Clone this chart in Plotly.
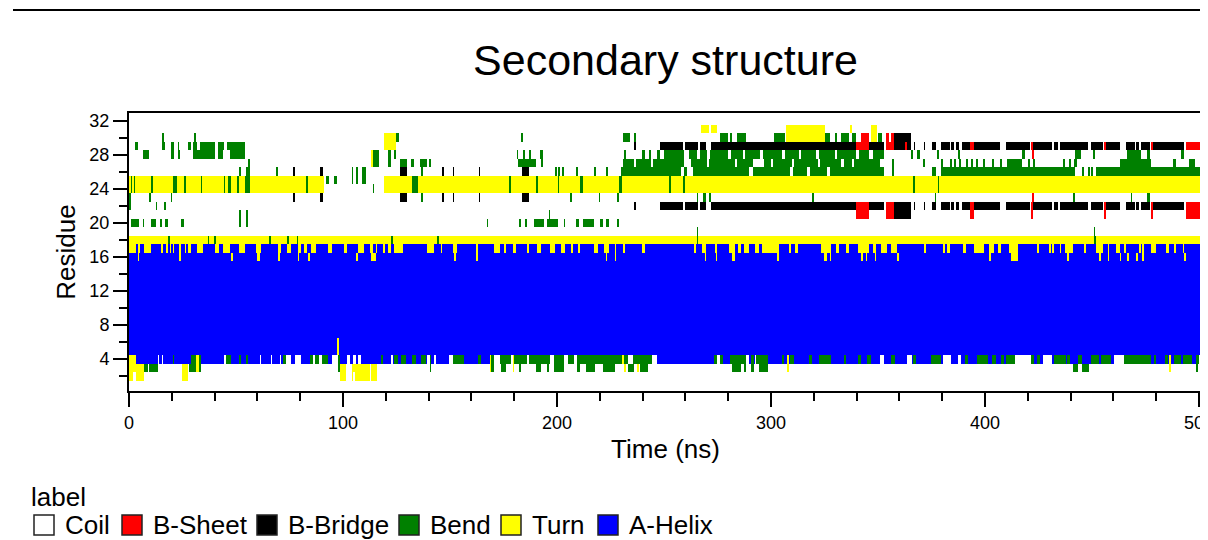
import plotly.graph_objects as go

# ---------------- data ----------------
state_names = ["Coil", "B-Sheet", "B-Bridge", "Bend", "Turn", "A-Helix"]
state_codes = ["C", "E", "B", "G", "T", "H"]
residues = list(range(1, 33))
time_max = 501.4          # ns shown on the time axis
time_ticks = [0, 100, 200, 300, 400, 500]
residue_ticks = [4, 8, 12, 16, 20, 24, 28, 32]

# base state of every residue row (1 .. 32)
row_base = ["C", "C", "C", "H", "H", "H", "H", "H", "H", "H", "H", "H", "H", "H", "H", "H",
            "H", "T", "C", "C", "C", "C", "C", "C", "C", "C", "C", "C", "C", "C", "C", "C"]

# segments (start ns, end ns, state) painted over the base state
row_01 = []
row_02 = [(0, 1.8, "T"), (3.3, 7.2, "T"), (25.1, 27.5, "T"), (98.3, 101.4, "T"), (103.8, 104.6, "T"),
          (105.4, 112.3, "T"), (113.1, 116.2, "T")]
row_03 = [(0, 7.2, "T"), (7.2, 9, "G"), (9.5, 13.4, "G"), (25.1, 27.5, "T"), (28.2, 31.5, "G"), (31.5, 32.3, "T"),
          (32.3, 33.7, "G"), (97.6, 98.4, "G"), (98.4, 101.4, "T"), (103.8, 112.3, "T"), (113.1, 116.2, "T"),
          (140.4, 141.2, "G"), (168.4, 169, "T"), (169, 170.7, "G"), (174, 176, "G"), (179.3, 180, "T"),
          (182.4, 183.2, "G"), (190, 192.5, "G"), (195.7, 196.5, "G"), (198.5, 203.4, "G"), (209.7, 211.2, "G"),
          (213.6, 218.2, "G"), (221.4, 226.8, "G"), (231.5, 232.3, "T"), (233, 236, "G"), (237.7, 238.5, "T"),
          (239, 242.4, "G"), (282, 286, "G"), (287.6, 288.4, "G"), (290.5, 292, "G"), (294.6, 298.5, "G"),
          (307.6, 308.4, "T"), (441, 443.4, "G"), (445.7, 448.4, "G"), (486.2, 487, "T"), (498.7, 499.5, "G")]
row_04 = [(0, 3.3, "T"), (13.4, 14.2, "C"), (15.3, 16.1, "C"), (20.4, 21.2, "G"), (29, 31.5, "G"), (31.5, 32.3, "T"),
          (32.3, 33.7, "G"), (44.5, 45.3, "C"), (45.3, 47.7, "G"), (51.6, 52.4, "G"), (54.7, 55.5, "G"),
          (60.9, 61.7, "C"), (66.4, 67.2, "C"), (70.3, 71.1, "C"), (71.8, 73.4, "G"), (73.4, 75.7, "C"),
          (77.3, 80.4, "C"), (84.3, 86, "G"), (86, 87, "C"), (87, 89, "G"), (89, 90, "C"), (90, 92.9, "G"),
          (95.2, 97.5, "C"), (97.5, 98.3, "G"), (101.9, 103.5, "C"), (104.5, 106, "C"), (107, 108.5, "C"),
          (117.8, 118.6, "G"), (122.5, 123.3, "C"), (124, 125.5, "G"), (127.1, 129.5, "G"), (132.6, 134.1, "G"),
          (136.5, 138.8, "G"), (139.6, 140.4, "C"), (140.4, 141.2, "G"), (142.7, 143.5, "C"), (149.7, 151.5, "C"),
          (151.5, 156.7, "G"), (163, 164.5, "G"), (168.4, 169.2, "T"), (169.2, 170.7, "G"), (170.7, 173.5, "C"),
          (173.5, 178.5, "G"), (178.5, 179.3, "C"), (179.3, 180, "T"), (180, 186, "G"), (186, 187, "C"),
          (187, 197, "G"), (197, 198.5, "C"), (198.5, 203.4, "G"), (203.4, 205, "C"), (205, 208, "G"),
          (208, 209.5, "C"), (209.5, 230.7, "G"), (230.7, 231.5, "T"), (231.5, 233, "G"), (233, 235.5, "C"),
          (235.5, 244.4, "G"), (244.4, 247, "C"), (273.5, 275, "G"), (275, 276, "C"), (276, 277.5, "G"),
          (281, 288.5, "G"), (288.5, 290, "C"), (290.5, 292, "G"), (292.3, 293, "C"), (293, 298.5, "G"),
          (305, 306, "G"), (307.5, 308.3, "T"), (309, 311, "G"), (318, 319, "G"), (322.6, 328.1, "G"),
          (334, 335, "G"), (340.5, 342, "G"), (345.2, 346.8, "G"), (351, 353, "C"), (356, 358, "G"),
          (363.7, 366, "C"), (366.7, 368.2, "G"), (375, 379.5, "G"), (380.3, 384.2, "C"), (387.3, 388.8, "C"),
          (390.4, 392, "G"), (396.6, 401.3, "G"), (403.6, 405.2, "G"), (407.5, 409.1, "G"), (409.9, 413.8, "G"),
          (413.8, 421.6, "C"), (421.6, 423.1, "G"), (424.7, 426.2, "G"), (427, 431.7, "C"), (432.5, 438, "G"),
          (438.7, 440.2, "G"), (443.4, 445.7, "G"), (449.6, 453.5, "G"), (454.3, 459, "G"), (460.5, 465.2, "C"),
          (465.2, 477.6, "G"), (479.2, 480, "G"), (483.9, 485.4, "G"), (486.2, 487, "T"), (488.5, 491.6, "G"),
          (492.4, 497.1, "G"), (498.7, 500.2, "G"), (500.2, 501.5, "C")]
row_05 = [(97.2, 98, "T")]
row_06 = [(97.2, 98, "T")]
row_07 = []
row_08 = []
row_09 = []
row_10 = []
row_11 = []
row_12 = []
row_13 = []
row_14 = []
row_15 = []
row_16 = [(3.8, 4.6, "T"), (23.5, 24.3, "T"), (47.7, 48.5, "T"), (60.2, 61, "T"), (69.5, 70.3, "T"), (78.8, 79.6, "T"),
          (83.5, 84.3, "T"), (106, 106.8, "T"), (113, 115.4, "T"), (152, 152.8, "T"), (162.2, 163, "T"),
          (222.9, 223.7, "T"), (226.8, 227.6, "T"), (268.9, 269.7, "T"), (274.4, 275.2, "T"), (282.1, 282.9, "T"),
          (303.2, 304, "T"), (325, 325.8, "T"), (327.3, 328.1, "T"), (342.1, 342.9, "T"), (344.4, 345.2, "T"),
          (348.3, 349.1, "T"), (359.2, 360, "T"), (402.1, 402.9, "T"), (412.2, 415.3, "T"), (438.7, 439.5, "T"),
          (453.5, 454.3, "T"), (457.4, 458.2, "T"), (462.8, 463.6, "T"), (466.7, 467.5, "T"), (470.6, 471.4, "T"),
          (473.7, 474.5, "T"), (493.2, 494, "T")]
row_17 = [(0, 3.3, "T"), (4, 4.8, "T"), (7.2, 10.3, "T"), (15, 16.2, "T"), (17.3, 18.1, "T"), (18.9, 19.7, "T"),
          (20.4, 21.2, "T"), (23.5, 24.3, "T"), (25.9, 26.7, "T"), (27.5, 29, "T"), (32.1, 34.5, "T"),
          (39.9, 42.2, "T"), (43.8, 46.9, "T"), (51.6, 53.9, "T"), (59.4, 61.7, "T"), (69.5, 71, "T"),
          (74.2, 75.7, "T"), (78.8, 80.4, "T"), (82, 82.8, "T"), (85.1, 87.4, "T"), (92.9, 95.2, "T"),
          (100.7, 102.2, "T"), (106.9, 110, "T"), (112.3, 113.9, "T"), (115.4, 116.2, "T"), (118.6, 119.4, "T"),
          (120.9, 122.5, "T"), (124, 127.9, "T"), (139.6, 142.4, "T"), (145.8, 146.6, "T"), (151.3, 153.6, "T"),
          (162.2, 163, "T"), (170.7, 173.5, "T"), (175.4, 176.2, "T"), (179.3, 180.9, "T"), (186, 186.8, "T"),
          (190.7, 192.5, "T"), (197.2, 198.8, "T"), (201.9, 204.2, "T"), (206.6, 207.4, "T"), (210, 210.8, "T"),
          (217.5, 219, "T"), (221.8, 224.5, "T"), (226.8, 227.6, "T"), (231.2, 232, "T"), (240, 240.8, "T"),
          (263.9, 265, "T"), (268.1, 269.7, "T"), (273.9, 274.8, "T"), (280.6, 283, "T"), (284.5, 286, "T"),
          (287.6, 290, "T"), (292.3, 294.6, "T"), (296.2, 303.9, "T"), (308.6, 309.4, "T"), (311.7, 312.5, "T"),
          (323.4, 328.1, "T"), (330.4, 332, "T"), (335.1, 336.6, "T"), (340.5, 346, "T"), (347.6, 349.1, "T"),
          (351.4, 354.6, "T"), (356.1, 359.2, "T"), (371.7, 372.5, "T"), (380.6, 381.4, "T"), (382.6, 383.4, "T"),
          (390.1, 390.9, "T"), (394.8, 399.4, "T"), (402.1, 404.4, "T"), (406, 407.5, "T"), (411.4, 415.3, "T"),
          (424.7, 425.5, "T"), (430.1, 430.9, "T"), (431.7, 432.5, "T"), (434.8, 435.6, "T"), (437.5, 441, "T"),
          (446.5, 447.3, "T"), (451.9, 455, "T"), (457.4, 458.2, "T"), (461.3, 462.8, "T"), (465.2, 466, "T"),
          (472.2, 473, "T"), (473.7, 474.5, "T"), (477.6, 480, "T"), (484.6, 486.2, "T"), (488.6, 489.4, "T"),
          (492.4, 493.2, "T")]
row_18 = [(18.1, 18.9, "G"), (36.8, 37.6, "G"), (39.6, 40.4, "G"), (65.6, 66.4, "G"), (74.2, 75, "G"),
          (78.4, 79.2, "G"), (122.5, 123.3, "G"), (144.2, 145, "G"), (265.3, 266.1, "G"), (451, 451.8, "G")]
row_19 = [(265.3, 266.1, "G"), (450.9, 451.7, "G")]
row_20 = [(1, 4.4, "G"), (6.4, 7.2, "G"), (10.3, 12.6, "G"), (14.5, 15.3, "G"), (17, 17.8, "G"), (24.6, 25.4, "G"),
          (51.6, 52.4, "G"), (54.7, 55.5, "G"), (167.3, 168.1, "G"), (182.4, 183.2, "G"), (185, 185.8, "G"),
          (189.4, 194, "G"), (195.7, 200.6, "G"), (203.4, 204.2, "G"), (208.9, 210.5, "G"), (212, 217.5, "G"),
          (219.8, 221.4, "G"), (222.9, 224.5, "G"), (228, 228.8, "G")]
row_21 = [(51.6, 52.4, "G"), (54.7, 55.5, "G"), (196.4, 197.2, "G"), (339.8, 346, "E"), (354, 357.7, "E"),
          (357.7, 365.5, "B"), (392.8, 394.8, "E"), (421.6, 422.5, "E"), (455.5, 456.6, "E"), (477.6, 478.4, "E"),
          (494, 501.5, "E")]
row_22 = [(0, 0.8, "G"), (12.3, 13.1, "G"), (16.5, 17.3, "G"), (236, 237, "B"), (247.8, 258.8, "B"),
          (259.9, 265.8, "B"), (267, 269.7, "B"), (272, 339.8, "B"), (339.8, 346, "E"), (346, 353, "B"),
          (353.8, 357.7, "E"), (357.7, 365.5, "B"), (366.8, 367.5, "B"), (371.4, 372, "B"), (375.3, 377.2, "B"),
          (379.5, 383.4, "B"), (384.2, 385.7, "B"), (386.5, 388, "B"), (389.6, 392.8, "B"), (392.8, 394.8, "E"),
          (394.8, 406.8, "B"), (409.9, 420.8, "B"), (421.6, 422.5, "E"), (422.5, 431.7, "B"), (432.5, 434, "B"),
          (434.8, 448, "B"), (449.6, 455, "B"), (455.5, 456.6, "E"), (456.6, 462.8, "B"), (466, 469.9, "B"),
          (470.6, 472.2, "B"), (473, 476.9, "B"), (477.6, 478.4, "E"), (478.4, 493.2, "B"), (494, 501.5, "E")]
row_23 = [(0, 0.8, "G"), (9.5, 10.3, "G"), (19.4, 20.2, "G"), (76.5, 77.3, "B"), (89.5, 90.3, "B"),
          (126.3, 130, "B"), (136.5, 137.3, "G"), (146.3, 147.1, "B"), (151.3, 152.1, "B"), (163.4, 164.2, "B"),
          (183.7, 187, "B"), (206, 206.8, "G"), (219.3, 220.1, "G"), (228, 228.8, "G"), (265.3, 266.1, "G"),
          (268.6, 269.4, "G"), (271.2, 272, "G"), (319.2, 320, "G"), (376.4, 377, "G"), (422, 423, "E"),
          (441, 441.8, "G"), (468.3, 469.1, "G"), (476.1, 476.9, "G")]
row_24 = [(0, 91, "T"), (119, 501.5, "T"), (0.8, 1.6, "G"), (2.4, 3.2, "G"), (10.3, 11.1, "G"), (20.4, 22.4, "G"),
          (25.6, 26.4, "G"), (33.4, 34.2, "G"), (44.3, 45.1, "G"), (46.5, 47.3, "G"), (50.6, 51.4, "G"),
          (54.2, 56.7, "G"), (82.5, 83.3, "G"), (113.9, 114.7, "G"), (132.6, 134.9, "G"), (177.7, 178.5, "G"),
          (190.2, 191, "G"), (200.3, 201.1, "G"), (211.2, 212, "G"), (229, 230.7, "G"), (252.5, 253.3, "G"),
          (259, 259.9, "G"), (366.7, 367.3, "G"), (378, 378.7, "G")]
row_25 = [(0, 91, "T"), (119, 501.5, "T"), (0.8, 1.6, "G"), (2.4, 3.2, "G"), (10.3, 11.1, "G"), (20.4, 22.4, "G"),
          (25.6, 26.4, "G"), (33.4, 34.2, "G"), (44.3, 45.1, "G"), (46.5, 47.3, "G"), (50.6, 51.4, "G"),
          (54.2, 56.7, "G"), (82.5, 83.3, "G"), (92.2, 93.3, "G"), (96, 96.8, "G"), (103.8, 104.6, "G"),
          (106, 107, "G"), (109, 110.8, "G"), (132.6, 134.9, "G"), (177.7, 178.5, "G"), (190.2, 191, "G"),
          (200.3, 201.1, "G"), (211.2, 212, "G"), (229, 230.7, "G"), (252.5, 253.3, "G"), (259, 259.9, "G"),
          (366.7, 367.3, "G"), (378, 378.7, "G")]
row_26 = [(51.6, 52.4, "G"), (54.7, 56.7, "G"), (68.7, 69.5, "G"), (76.5, 77.3, "B"), (89.5, 90.3, "B"),
          (103.8, 104.6, "G"), (106, 107, "G"), (109, 110.8, "G"), (126.3, 130, "B"), (136.5, 137.3, "G"),
          (146.3, 147.1, "B"), (151.3, 152.1, "B"), (163.4, 164.2, "B"), (183.7, 187, "B"), (199, 199.8, "G"),
          (200.7, 201.5, "G"), (202.5, 203.3, "G"), (209, 209.8, "G"), (217.5, 218.3, "G"), (223.2, 224, "G"),
          (230, 258, "G"), (259.5, 261, "G"), (263.4, 290, "G"), (291.5, 309, "G"), (310.5, 317, "G"),
          (318.5, 326, "G"), (327.5, 353, "G"), (356.6, 357.5, "G"), (375.3, 377, "G"), (379.5, 441.8, "G"),
          (445.5, 446.3, "G"), (448, 448.8, "G"), (449.5, 450.3, "G"), (452, 501.5, "G")]
row_27 = [(55.5, 56.5, "G"), (113, 114, "T"), (114, 117, "G"), (121, 122.6, "G"), (126.3, 130.2, "G"),
          (131.8, 133, "G"), (136, 139.6, "G"), (140, 140.8, "G"), (182, 190.2, "G"), (192.5, 193.6, "G"),
          (231, 236, "G"), (237, 244, "G"), (245, 259.4, "G"), (262.5, 270, "G"), (271, 283, "G"), (284, 291.5, "G"),
          (297, 300, "G"), (301, 310, "G"), (311, 322, "G"), (323, 333, "G"), (334, 338, "G"), (339, 351, "G"),
          (356.6, 357.5, "G"), (371, 372, "G"), (379.5, 380.5, "G"), (383.4, 384.4, "G"), (385.7, 386.7, "G"),
          (388, 389, "G"), (391, 392, "G"), (393.5, 394.5, "G"), (395.8, 396.8, "G"), (399, 400, "G"),
          (403.7, 404.7, "G"), (406.8, 407.8, "G"), (410.7, 417.7, "G"), (420, 421, "G"), (422.3, 423.3, "G"),
          (436.3, 437.3, "G"), (439.4, 440.4, "G"), (441.5, 443, "G"), (463, 477.6, "G"), (487.8, 489.3, "G"),
          (495.5, 498, "G")]
row_28 = [(6.5, 9.5, "G"), (19.7, 21, "G"), (23, 24, "G"), (30, 40, "G"), (41.5, 44, "G"), (47, 54, "G"),
          (113, 114, "T"), (114, 117, "G"), (121, 122.6, "G"), (124, 124.8, "G"), (181.3, 182.2, "G"),
          (184, 185, "G"), (187, 188, "G"), (192, 193.6, "G"), (231.5, 232.5, "G"), (240, 241, "G"),
          (243, 244, "G"), (247, 248, "G"), (250, 259.5, "G"), (261.5, 265.5, "G"), (267, 270, "G"),
          (271.5, 280, "G"), (281.5, 287, "G"), (288, 295, "G"), (296.5, 305, "G"), (306.5, 313, "G"),
          (314, 321, "G"), (322.5, 330, "G"), (331, 340, "G"), (341, 346, "G"), (347.5, 353, "G"),
          (365.5, 366.3, "G"), (368.6, 369.4, "G"), (377.5, 378.5, "G"), (387.5, 388.5, "G"), (417.7, 419.2, "G"),
          (422, 423, "E"), (441.8, 445, "G"), (450.5, 451.5, "G"), (466.7, 473, "G"), (476, 477, "G"),
          (491.7, 493, "G")]
row_29 = [(3, 4, "G"), (15.5, 17, "G"), (19.5, 21, "G"), (23, 23.7, "G"), (27.5, 29, "G"), (30, 32, "G"),
          (33, 40, "G"), (41.5, 44.5, "G"), (46, 54, "G"), (119, 125, "T"), (236, 237, "B"), (247.8, 258.8, "B"),
          (259.9, 265.8, "B"), (267, 269.7, "B"), (272, 339.8, "B"), (339.8, 346, "E"), (346, 353, "B"),
          (353.8, 357.7, "E"), (357.7, 362.5, "B"), (362.5, 363.3, "E"), (363.3, 365.5, "B"), (366.8, 367.5, "B"),
          (371.4, 372, "B"), (375.3, 377.2, "B"), (379.5, 383.4, "B"), (384.2, 385.7, "B"), (386.5, 388, "B"),
          (389.6, 392.8, "B"), (392.8, 394.8, "E"), (394.8, 406.8, "B"), (409.9, 420.8, "B"), (421.6, 422.5, "E"),
          (422.5, 431.7, "B"), (432.5, 434, "B"), (434.8, 448, "B"), (449.6, 455, "B"), (455.5, 456.6, "E"),
          (456.6, 462.8, "B"), (466, 469.9, "B"), (470.6, 472.2, "B"), (473, 476.9, "B"), (477.6, 478.4, "E"),
          (478.4, 493.2, "B"), (494, 501.5, "E")]
row_30 = [(15.5, 16.5, "G"), (30.5, 31.5, "G"), (119, 125, "T"), (125.2, 126.2, "G"), (183, 184, "G"),
          (231, 233.8, "G"), (236, 237, "G"), (275.9, 279.8, "G"), (281, 282, "G"), (284.2, 288.4, "G"),
          (301.3, 306.3, "G"), (307, 325.7, "T"), (325.7, 327.3, "G"), (330, 331, "G"), (332.8, 336.7, "G"),
          (338, 339.8, "G"), (341.8, 346, "E"), (346.8, 349.4, "T"), (349.9, 352.2, "G"), (353.8, 355, "E"),
          (356, 357.7, "E"), (357.7, 365.5, "B")]
row_31 = [(267.6, 271.2, "T"), (272, 275.1, "T"), (307, 325.7, "T"), (337, 338, "T"), (346.8, 349.4, "T")]
row_32 = []

row_segments = [row_01, row_02, row_03, row_04, row_05, row_06, row_07, row_08, row_09, row_10, row_11,
                row_12, row_13, row_14, row_15, row_16, row_17, row_18, row_19, row_20, row_21, row_22,
                row_23, row_24, row_25, row_26, row_27, row_28, row_29, row_30, row_31, row_32]

# ---------------- build the state grid ----------------
state_colors = ["#ffffff", "#ff0000", "#000000", "#008000", "#ffff00", "#0000ff"]
step = 0.5
n_cells = int(round(time_max / step))
x_centers = [(i + 0.5) * step for i in range(n_cells)]
code_index = {c: i for i, c in enumerate(state_codes)}

z = []
for base, segs in zip(row_base, row_segments):
    line = [code_index[base]] * n_cells
    for s, e, c in segs:
        i0 = max(0, int(round(s / step)))
        i1 = min(n_cells, max(i0 + 1, int(round(e / step))))
        for i in range(i0, i1):
            line[i] = code_index[c]
    z.append(line)

n_states = len(state_codes)
colorscale = []
for k, col in enumerate(state_colors):
    colorscale.append([k / n_states, col])
    colorscale.append([(k + 1) / n_states, col])

fig = go.Figure()
fig.add_trace(go.Heatmap(
    z=z, x=x_centers, y=residues,
    zmin=-0.5, zmax=n_states - 0.5,
    colorscale=colorscale, showscale=False,
    zsmooth=False, hoverinfo="skip",
))

FONT = "Liberation Sans, Arial, sans-serif"
W, H = 1330, 600
plot_top, plot_bottom, plot_left, plot_right = 105, 383, 121, 1194
plot_h = plot_bottom - plot_top
plot_w = plot_right - plot_left


def px_x(px):
    return (px - plot_left) / plot_w


def px_y(py):
    return (plot_bottom - py) / plot_h


# legend drawn as boxes + text (layout positions in figure pixels)
legend_box_centers = [36, 124, 259, 401, 503, 600]
legend_row_y = 517
box_half = 10
shapes = [dict(type="line", xref="paper", yref="paper",
               x0=px_x(5), x1=1.2, y0=px_y(2), y1=px_y(2),
               line=dict(color="black", width=2))]
annotations = [dict(text="label", xref="paper", yref="paper",
                    x=px_x(21), xanchor="left", y=px_y(489), yanchor="middle",
                    showarrow=False, font=dict(size=26, color="black", family=FONT))]
for name, col, cx in zip(state_names, state_colors, legend_box_centers):
    shapes.append(dict(type="rect", xref="paper", yref="paper",
                       x0=px_x(cx - box_half), x1=px_x(cx + box_half),
                       y0=px_y(legend_row_y + box_half), y1=px_y(legend_row_y - box_half),
                       fillcolor=col, line=dict(color="#222222", width=1.5)))
    annotations.append(dict(text=name, xref="paper", yref="paper",
                            x=px_x(cx + 19), xanchor="left", y=px_y(legend_row_y), yanchor="middle",
                            showarrow=False, font=dict(size=26, color="black", family=FONT)))

fig.update_layout(
    width=W, height=H,
    margin=dict(l=plot_left, r=W - plot_right, t=plot_top, b=H - plot_bottom, autoexpand=False),
    paper_bgcolor="white", plot_bgcolor="white",
    font=dict(family=FONT, color="black"),
    title=dict(text="Secondary structure", x=0.5, xref="paper", xanchor="center",
               y=1 - 52 / H, yanchor="middle", font=dict(size=43, color="black", family=FONT)),
    showlegend=False,
    annotations=annotations,
    shapes=shapes,
)

fig.update_xaxes(
    range=[0, time_max], tickvals=time_ticks, ticktext=[str(v) for v in time_ticks],
    ticks="outside", ticklen=14, tickwidth=2, tickcolor="black",
    showline=True, linewidth=2, linecolor="black", mirror=True,
    showgrid=False, zeroline=False,
    minor=dict(dtick=20, tick0=0, ticks="outside", ticklen=8, tickwidth=2, tickcolor="black", showgrid=False),
    tickfont=dict(size=18, color="black", family=FONT),
    title=dict(text="Time (ns)", font=dict(size=26, color="black", family=FONT), standoff=8),
)
fig.update_yaxes(
    range=[0.25, 32.88], tickvals=residue_ticks, ticktext=[str(v) for v in residue_ticks],
    ticks="outside", ticklen=14, tickwidth=2, tickcolor="black",
    showline=True, linewidth=2, linecolor="black", mirror=True,
    showgrid=False, zeroline=False,
    minor=dict(dtick=2, tick0=0, ticks="outside", ticklen=8, tickwidth=2, tickcolor="black", showgrid=False),
    tickfont=dict(size=18, color="black", family=FONT),
    title=dict(text="Residue", font=dict(size=26, color="black", family=FONT), standoff=6),
)

fig.write_html("out.html")
